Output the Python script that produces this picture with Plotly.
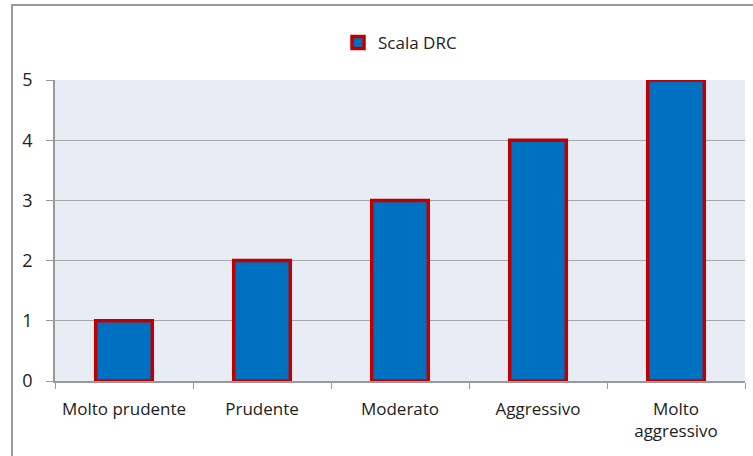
import plotly.graph_objects as go

categories = ["Molto prudente", "Prudente", "Moderato", "Aggressivo", "Molto<br>aggressivo"]
values = [1, 2, 3, 4, 5]
series_name = "Scala DRC"

fig = go.Figure()
fig.add_trace(go.Bar(
    x=categories, y=values, name=series_name,
    marker=dict(color="#0070C0", line=dict(color="#C00000", width=3.5)),
    width=0.41, showlegend=True,
))

fig.update_layout(
    width=753, height=456,
    margin=dict(l=55, r=8, t=80, b=75, autoexpand=False),
    paper_bgcolor="white", plot_bgcolor="#E8ECF5",
    font=dict(family="Open Sans, sans-serif", size=18, color="#222222"),
    showlegend=True,
    legend=dict(orientation="h", x=0.5, xanchor="center", y=(381 - 43) / 301, yanchor="middle",
                font=dict(size=17), bgcolor="rgba(0,0,0,0)", itemwidth=30),
    bargap=0.59,
    shapes=[dict(type="rect", xref="paper", yref="paper",
                 x0=(12 - 55) / 690, x1=1.2, y0=-0.6, y1=(381 - 5) / 301,
                 line=dict(color="#999999", width=2), fillcolor="rgba(0,0,0,0)", layer="below")],
)
fig.update_xaxes(
    type="category", tickson="boundaries", ticks="outside", ticklen=6,
    tickcolor="#999999", showline=True, linecolor="#999999", linewidth=1.5,
    showgrid=False, tickfont=dict(size=17), tickangle=0, automargin=False,
    ticklabelstandoff=12,
)
fig.update_yaxes(
    range=[0, 5], dtick=1, ticks="outside", ticklen=7, tickcolor="#999999",
    showline=True, linecolor="#999999", linewidth=1.5,
    showgrid=True, gridcolor="#A6A6A6", gridwidth=1, zeroline=False,
    tickfont=dict(size=18), ticklabelstandoff=10, automargin=False,
)

fig.write_html("out.html", post_script="document.body.style.margin='0';",
               config={"displayModeBar": False})
